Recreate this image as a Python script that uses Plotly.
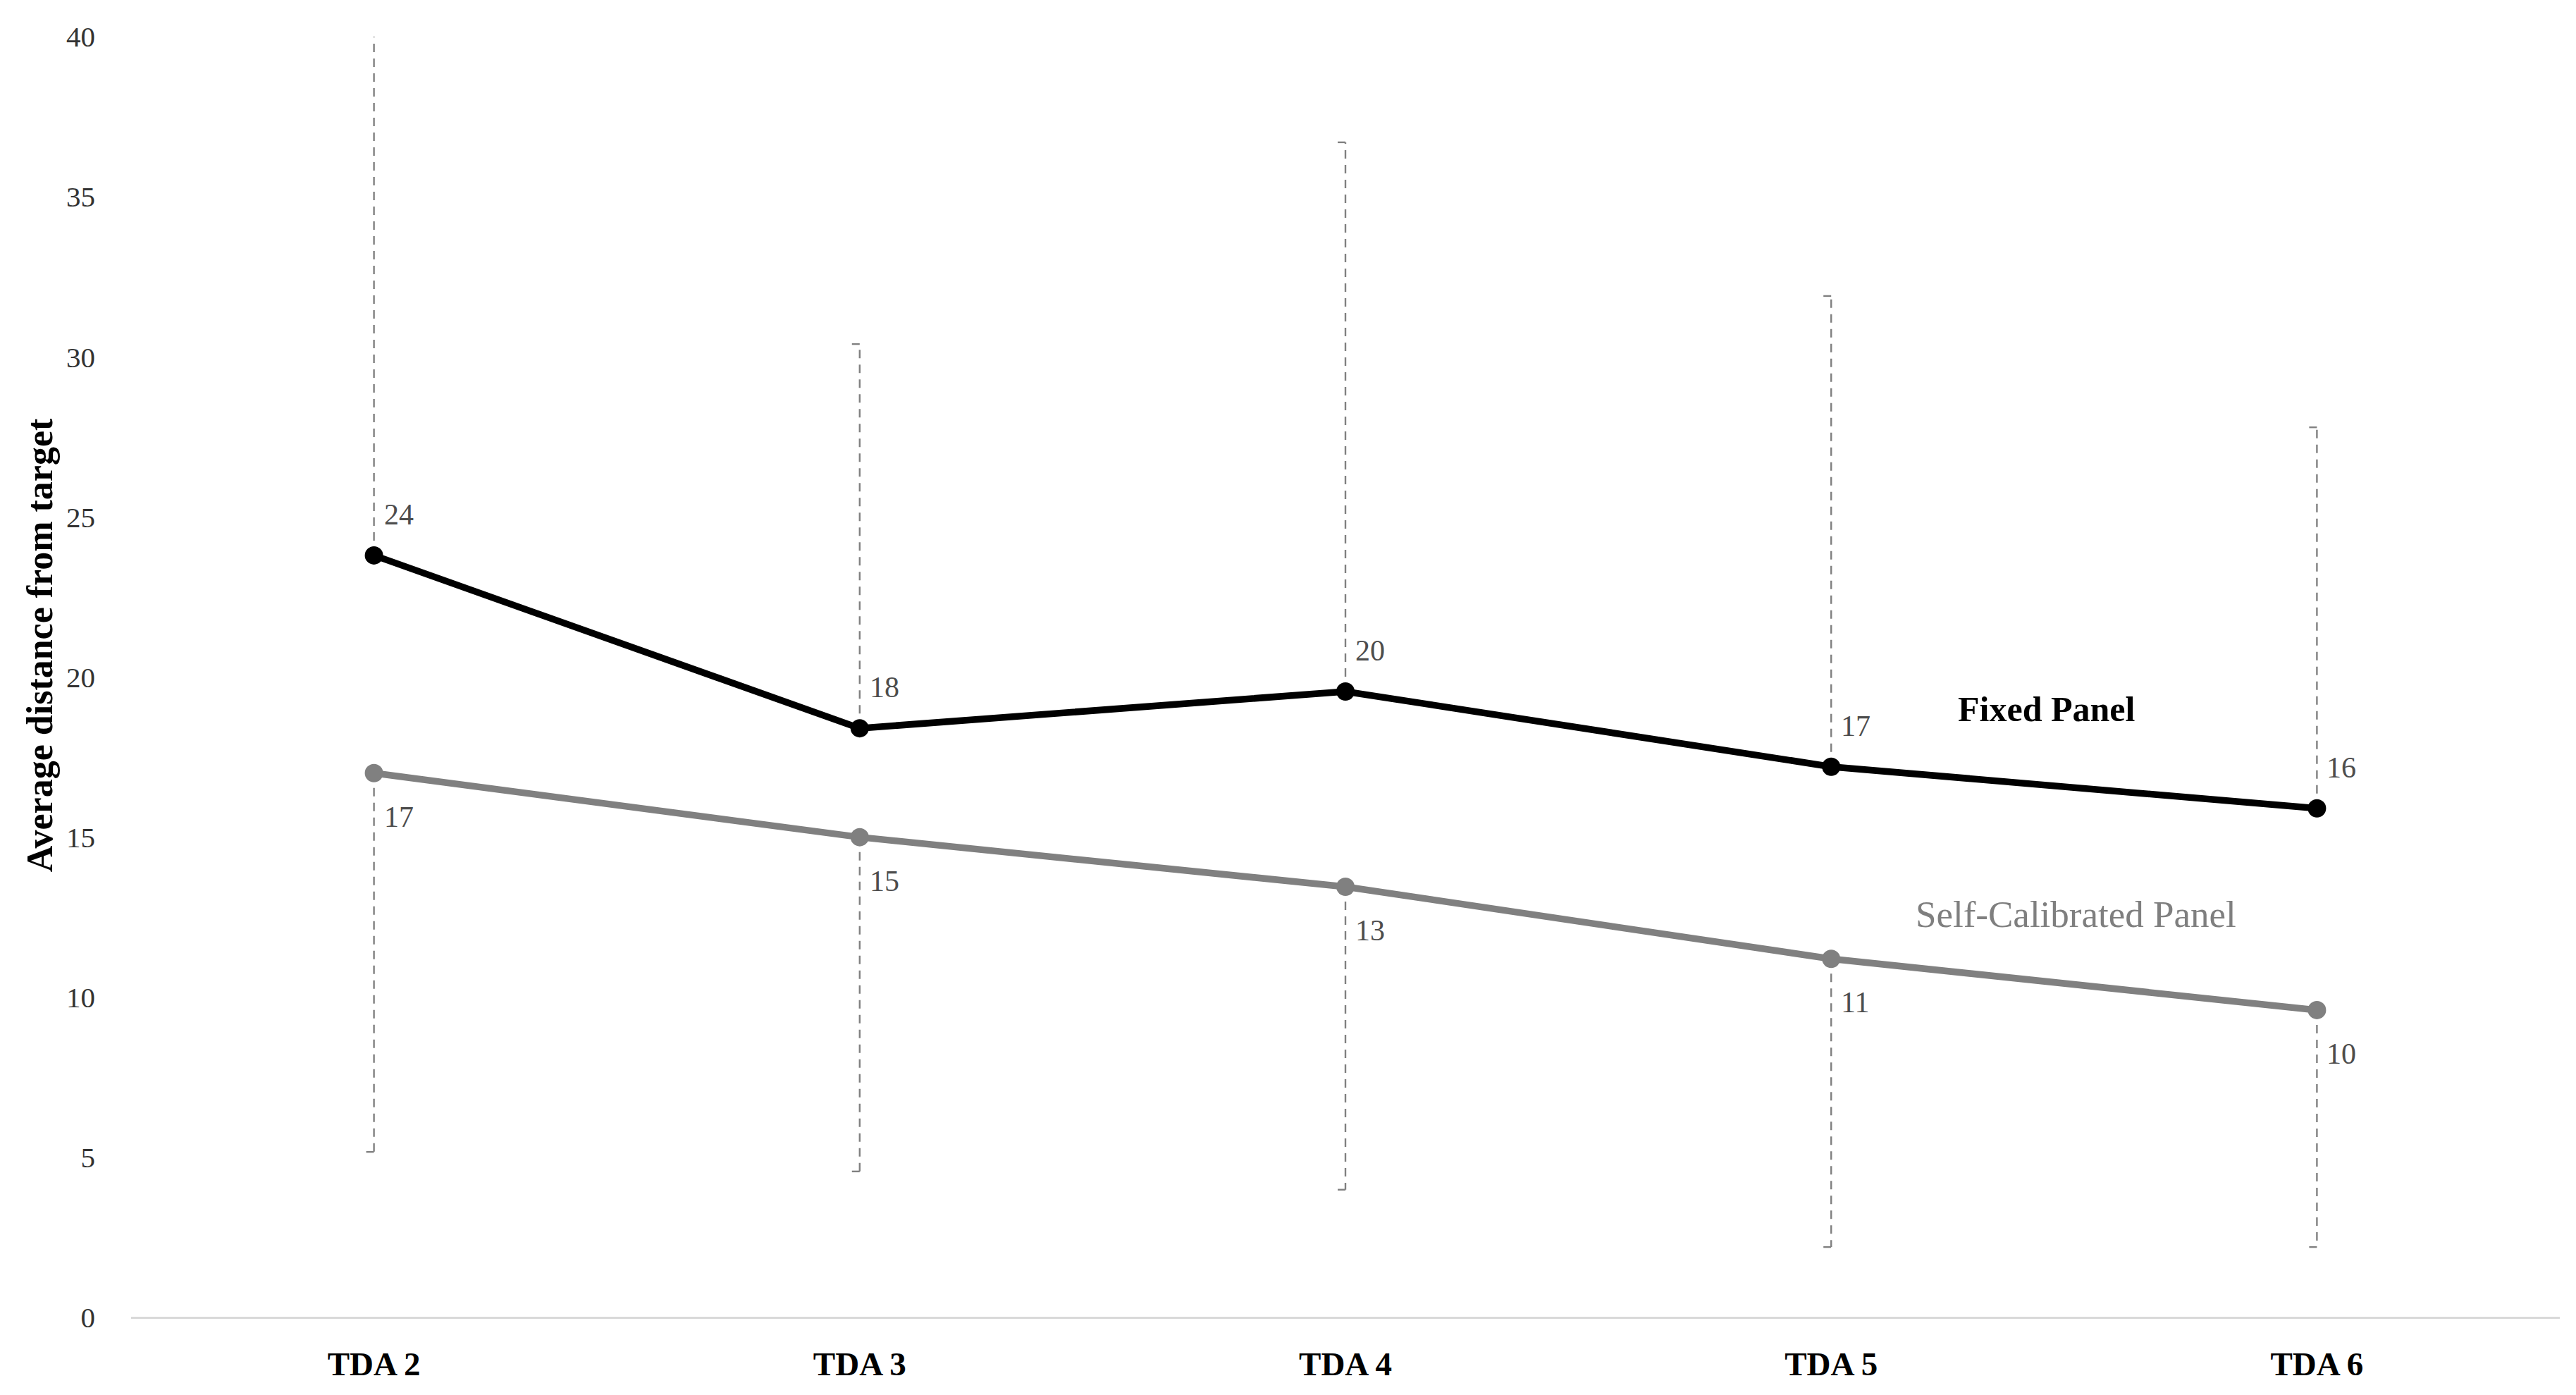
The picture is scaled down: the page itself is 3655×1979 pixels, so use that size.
import plotly.graph_objects as go

categories = ["TDA 2", "TDA 3", "TDA 4", "TDA 5", "TDA 6"]
fixed_panel = [23.8, 18.4, 19.55, 17.2, 15.9]
self_calibrated = [17.0, 15.0, 13.45, 11.2, 9.6]
fixed_upper = [40.1, 30.4, 36.7, 31.9, 27.8]
self_lower = [5.17, 4.56, 3.99, 2.2, 2.2]
y_ticks = [0, 5, 10, 15, 20, 25, 30, 35, 40]

FONT = "Liberation Serif"
xs = list(range(len(categories)))
CAP = 0.016

fig = go.Figure()

# dashed error bars (upper from fixed panel, lower from self-calibrated)
ex, ey = [], []
for i, (f, u) in enumerate(zip(fixed_panel, fixed_upper)):
    ex += [i, i, None, i - CAP, i, None]
    ey += [f, u, None, u, u, None]
for i, (s, l) in enumerate(zip(self_calibrated, self_lower)):
    ex += [i, i, None, i - CAP, i, None]
    ey += [s, l, None, l, l, None]
fig.add_trace(go.Scatter(x=ex, y=ey, mode="lines",
                         line=dict(color="#808080", width=2.4, dash="12px,9px"),
                         hoverinfo="skip", showlegend=False))

fig.add_trace(go.Scatter(x=xs, y=self_calibrated, mode="lines+markers",
                         name="Self-Calibrated Panel",
                         line=dict(color="#808080", width=9.5),
                         marker=dict(color="#808080", size=26),
                         showlegend=False))
fig.add_trace(go.Scatter(x=xs, y=fixed_panel, mode="lines+markers",
                         name="Fixed Panel",
                         line=dict(color="#000000", width=9.5),
                         marker=dict(color="#000000", size=26),
                         showlegend=False))

annotations = []
for i, v in enumerate(fixed_panel):
    annotations.append(dict(x=i, y=v, xref="x", yref="y", text=f"{v:.0f}",
                            showarrow=False, xanchor="left", yanchor="middle",
                            xshift=12, yshift=58,
                            font=dict(family=FONT, size=42, color="#4d4d4d")))
for i, v in enumerate(self_calibrated):
    annotations.append(dict(x=i, y=v, xref="x", yref="y", text=f"{v:.0f}",
                            showarrow=False, xanchor="left", yanchor="middle",
                            xshift=12, yshift=-62,
                            font=dict(family=FONT, size=42, color="#4d4d4d")))
annotations.append(dict(x=3.443, y=19.0, xref="x", yref="y", text="<b>Fixed Panel</b>",
                        showarrow=False, xanchor="center", yanchor="middle",
                        font=dict(family=FONT, size=50, color="#000000")))
annotations.append(dict(x=3.504, y=12.6, xref="x", yref="y", text="Self-Calibrated Panel",
                        showarrow=False, xanchor="center", yanchor="middle",
                        font=dict(family=FONT, size=53, color="#7f7f7f")))
# y-axis title
annotations.append(dict(x=-0.0377, y=0.525, xref="paper", yref="paper",
                        text="<b>Average distance from target</b>", textangle=-90,
                        showarrow=False, xanchor="center", yanchor="middle",
                        font=dict(family=FONT, size=52, color="#000000")))

fig.update_layout(
    width=3655, height=1979,
    margin=dict(l=178, r=31, t=44, b=118),
    paper_bgcolor="white", plot_bgcolor="white",
    font=dict(family=FONT, color="#333333"),
    annotations=annotations,
    showlegend=False,
)
fig.update_xaxes(
    range=[-0.5, 4.5], tickmode="array", tickvals=xs,
    ticktext=[f"<b>{c}</b>" for c in categories],
    tickfont=dict(family=FONT, size=47, color="#000000"),
    showgrid=False, zeroline=False, showline=False, ticks="",
    ticklabelstandoff=34,
)
fig.update_yaxes(
    range=[0, 40], tickmode="array", tickvals=y_ticks,
    tickfont=dict(family=FONT, size=41, color="#333333"),
    showgrid=False, zeroline=True, zerolinecolor="#d9d9d9", zerolinewidth=3,
    showline=False, ticks="", ticklabelstandoff=50,
)

fig.write_html("out.html")
